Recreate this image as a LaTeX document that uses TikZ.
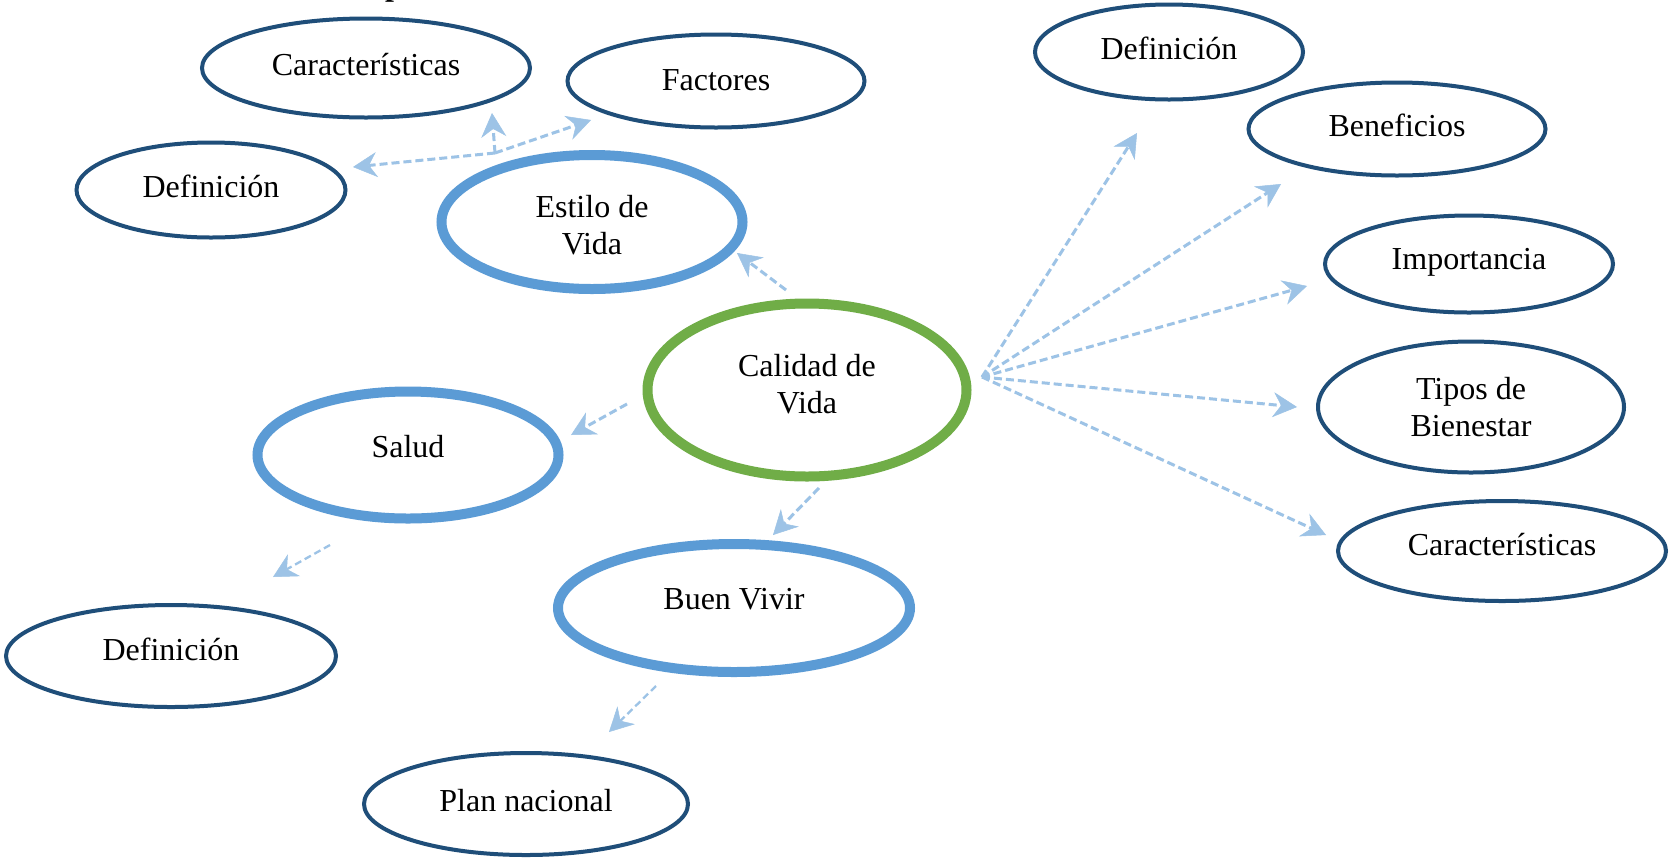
\documentclass[tikz,border=0pt]{standalone}
\usepackage{fontspec}
\setmainfont{Liberation Serif}
\usetikzlibrary{shapes.geometric,arrows.meta}
\definecolor{dkblue}{HTML}{1F4E79}
\definecolor{mdblue}{HTML}{5B9BD5}
\definecolor{grn}{HTML}{70AD47}
\definecolor{ltblue}{HTML}{9DC3E6}
\newcommand\tx[2]{\raisebox{#1pt}[0pt][0pt]{\begin{tabular}[b]{@{}c@{}}#2\end{tabular}}}
\begin{document}
\begin{tikzpicture}[x=1pt,y=-1pt,
  every node/.style={font=\fontsize{32}{37}\selectfont},
  dk/.style 2 args={ellipse,draw=dkblue,line width=4pt,inner sep=0pt,minimum width=#1pt,minimum height=#2pt},
  mb/.style 2 args={ellipse,draw=mdblue,line width=10pt,inner sep=0pt,minimum width=#1pt,minimum height=#2pt},
  gr/.style 2 args={ellipse,draw=grn,line width=10pt,inner sep=0pt,minimum width=#1pt,minimum height=#2pt},
  conn/.style={draw=ltblue,line width=3pt,dash pattern=on 8pt off 4pt,
    -{Stealth[length=24pt,width=25pt,inset=8pt,line width=0.5pt,fill=ltblue]}},
  connthin/.style={conn,line width=2.3pt,dash pattern=on 7pt off 4pt}]
\useasboundingbox (0,0) rectangle (1669,863);
\fill[white] (0,0) rectangle (1669,863);

% title fragment
\node[font=\bfseries\fontsize{32}{37}\selectfont,anchor=base west,inner sep=0pt] (ttl) at (385,-5) {p};

% nodes
\node[gr={319}{173}] (cal) at (807,390) {\tx{-23}{Calidad de\\Vida}};
\node[mb={301}{134}] (est) at (592,222) {\tx{-32}{Estilo de\\Vida}};
\node[mb={301}{127}] (sal) at (408,455) {\tx{-2}{Salud}};
\node[mb={352}{128}] (buen) at (734,608) {\tx{-1}{Buen Vivir}};

\node[dk={328}{99}] (charTL) at (366,68) {\tx{-7}{Características}};
\node[dk={297}{93}] (fac) at (716,81) {\tx{-9}{Factores}};
\node[dk={269}{95}] (defTL) at (211,190) {\tx{-7}{Definición}};
\node[dk={330}{102}] (defBL) at (171,656) {\tx{-4}{Definición}};
\node[dk={324}{102}] (plan) at (526,804) {\tx{-7}{Plan nacional}};

\node[dk={268}{95}] (defTR) at (1169,52) {\tx{-7}{Definición}};
\node[dk={297}{93}] (ben) at (1397,129) {\tx{-7}{Beneficios}};
\node[dk={288}{97}] (imp) at (1469,264) {\tx{-5}{Importancia}};
\node[dk={306}{131}] (tip) at (1471,407) {\tx{-29}{Tipos de\\Bienestar}};
\node[dk={328}{100}] (charR) at (1502,551) {\tx{-4}{Características}};

% connector end points
\coordinate (fan) at (982,377);
\coordinate (aDefTR) at (1137,133);
\coordinate (aBen) at (1281,184);
\coordinate (aImp) at (1307,286);
\coordinate (aTip) at (1297,407);
\coordinate (aCharR) at (1326,535);

\coordinate (sEst) at (786,290);
\coordinate (aEst) at (737,253);
\coordinate (sSal) at (627,404);
\coordinate (aSal) at (571,435);
\coordinate (sBuen) at (819,488);
\coordinate (aBuen) at (773,535);
\coordinate (sDefBL) at (330,545);
\coordinate (aDefBL) at (273,577);
\coordinate (sPlan) at (656,686);
\coordinate (aPlan) at (609,732);

\coordinate (jEst) at (495,153);
\coordinate (aDefTL) at (353,167);
\coordinate (aCharTL) at (492,113);
\coordinate (aFac) at (591,120);

% connectors
\draw[conn] (fan) -- (aDefTR);
\draw[conn] (fan) -- (aBen);
\draw[conn] (fan) -- (aImp);
\draw[conn] (fan) -- (aTip);
\draw[conn] (fan) -- (aCharR);

\draw[conn] (sEst) -- (aEst);
\draw[conn] (sSal) -- (aSal);
\draw[conn] (sBuen) -- (aBuen);
\draw[connthin] (sDefBL) -- (aDefBL);
\draw[connthin] (sPlan) -- (aPlan);

\draw[conn] (jEst) -- (aDefTL);
\draw[conn] (jEst) -- (aCharTL);
\draw[conn] (jEst) -- (aFac);
\end{tikzpicture}
\end{document}
